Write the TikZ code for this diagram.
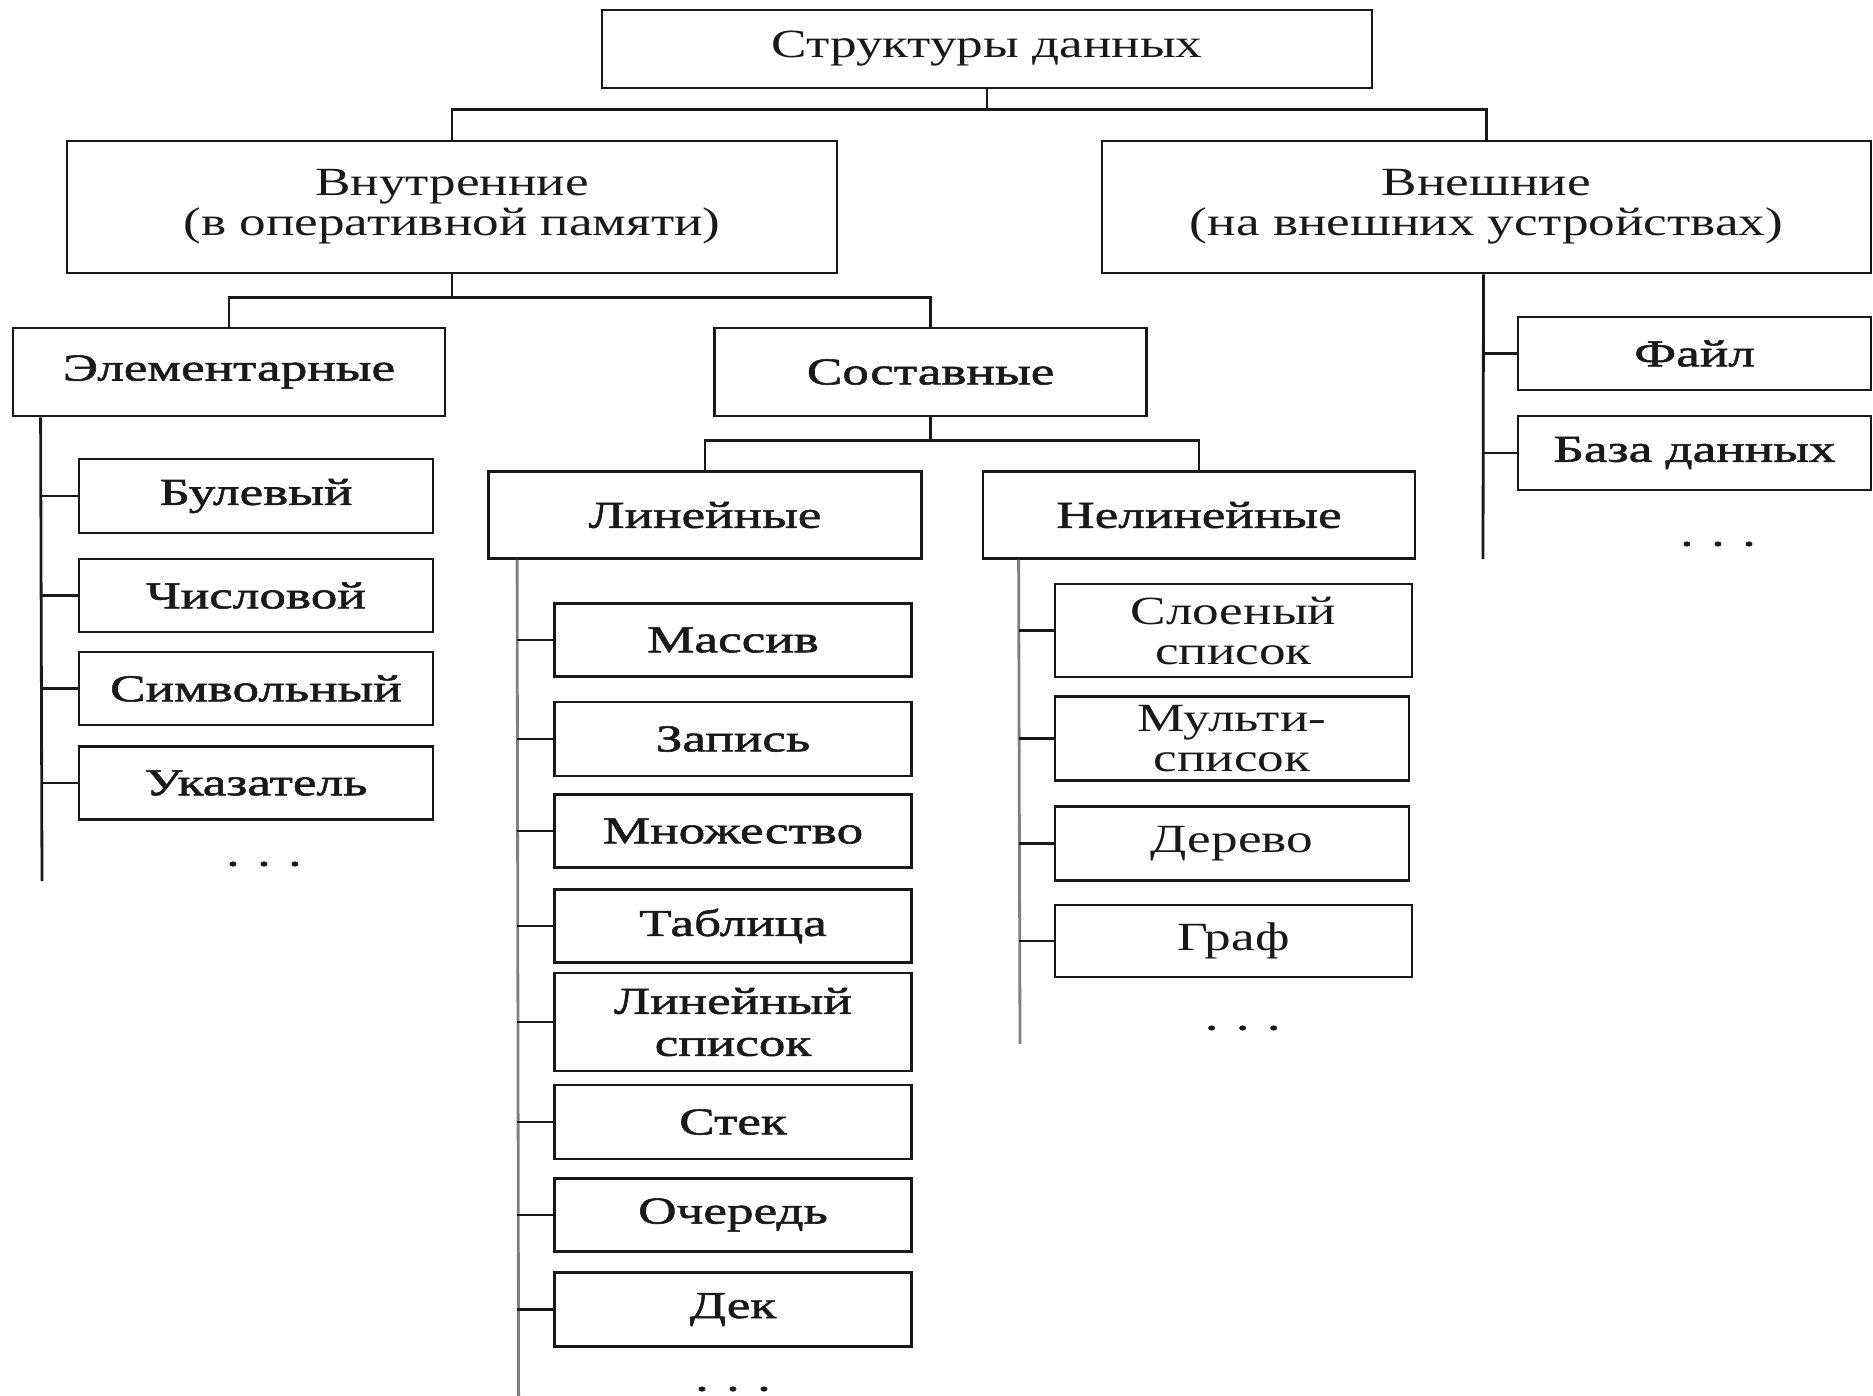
\documentclass[tikz,border=0pt]{standalone}
\usepackage{fontspec}
\setmainfont{Liberation Serif}
\newfontfamily\regf[FakeStretch=1.33]{Liberation Serif}
\newfontfamily\widef[FakeStretch=1.4,FakeBold=1.5]{Liberation Serif}
\usetikzlibrary{calc}
\begin{document}
\begin{tikzpicture}[x=1pt,y=-1pt,
  box/.style={draw=black!90, line width=2.8pt, fill=white, inner sep=0pt, align=center, text=black!90},
  reg/.style={box, font=\regf\fontsize{40}{40}\selectfont},
  wide/.style={box, font=\widef\fontsize{38}{42}\selectfont},
  ln/.style={draw=black!90, line width=2.8pt},
  gln/.style={draw=black!50, line width=2.8pt},
  dotsnode/.style={font=\widef\fontsize{38}{42}\selectfont, inner sep=0pt, text=black!90}]
\fill[white] (0,0) rectangle (1873,1396);
\useasboundingbox (0,0) rectangle (1873,1396);

% level 0-1
\node[reg, minimum width=770, minimum height=78] (top) at (987,49) {Структуры данных};
\node[reg, minimum width=770, minimum height=132] (inner) at (452,207) {Внутренние\\(в оперативной памяти)};
\node[reg, minimum width=769, minimum height=132] (outer) at (1486.5,207) {Внешние\\(на внешних устройствах)};

% level 2
\node[wide, minimum width=432, minimum height=88] (elem) at (229,372) {Элементарные};
\node[wide, minimum width=432, minimum height=88] (sost) at (930.6,372) {Составные};
\node[wide, minimum width=433, minimum height=87] (lin) at (705,515) {Линейные};
\node[wide, minimum width=432, minimum height=87] (nelin) at (1199,515) {Нелинейные};

% elementary children
\node[wide, minimum width=354, minimum height=74] (bul) at (256,496) {Булевый};
\node[wide, minimum width=354, minimum height=73] (chis) at (256,595.5) {Числовой};
\node[wide, minimum width=354, minimum height=73] (simv) at (256,688.5) {Символьный};
\node[wide, minimum width=354, minimum height=73] (ukaz) at (256,783) {Указатель};
\node[dotsnode] (edots) at (264,864) {. . .};

% linear children
\node[wide, minimum width=357, minimum height=73] (mass) at (733,640) {Массив};
\node[wide, minimum width=357, minimum height=74] (zap) at (733,739) {Запись};
\node[wide, minimum width=357, minimum height=73] (mnoz) at (733,831) {Множество};
\node[wide, minimum width=357, minimum height=73] (tabl) at (733,926) {Таблица};
\node[wide, minimum width=357, minimum height=98] (linsp) at (733,1022) {Линейный\\список};
\node[wide, minimum width=357, minimum height=74] (stek) at (733,1122) {Стек};
\node[wide, minimum width=357, minimum height=73] (och) at (733,1215) {Очередь};
\node[wide, minimum width=357, minimum height=74] (dek) at (733,1309.6) {Дек};
\node[dotsnode] (ldots) at (733,1389) {. . .};

% nonlinear children
\node[reg, minimum width=357, minimum height=93] (slo) at (1233.5,630.5) {Слоеный\\список};
\node[reg, minimum width=354, minimum height=84] (multi) at (1232,738.7) {Мульти-\\список};
\node[reg, minimum width=354, minimum height=74] (der) at (1232,843.7) {Дерево};
\node[reg, minimum width=357, minimum height=72] (graf) at (1233.5,941) {Граф};
\node[dotsnode] (ndots) at (1242.7,1028) {. . .};

% external children
\node[wide, minimum width=353, minimum height=73] (file) at (1694.5,353.5) {Файл};
\node[wide, minimum width=353, minimum height=74] (baza) at (1694.5,453) {База данных};
\node[dotsnode] (odots) at (1718,544) {. . .};

% tree connectors
\coordinate (j1) at ($(top.south)+(0,20)$);
\draw[ln] (top.south) -- (j1);
\draw[ln] (inner.north) |- (j1) -| (outer.north);
\coordinate (j2) at ($(inner.south)+(0,23)$);
\draw[ln] (inner.south) -- (j2);
\draw[ln] (elem.north) |- (j2) -| (sost.north);
\coordinate (j3) at ($(sost.south)+(0,23)$);
\draw[ln] (sost.south) -- (j3);
\draw[ln] (lin.north) |- (j3) -| (nelin.north);

% trunks
\coordinate (eT) at ($(elem.south west)+(29,0)$);
\coordinate (eB) at (42,881);
\draw[ln] (eT) -- (eB);
\foreach \n in {bul,chis,simv,ukaz} \draw[ln] (\n.west) -- (\n.west -| eT);

\coordinate (lT) at ($(lin.south west)+(30,0)$);
\coordinate (lB) at (518.6,1396);
\draw[gln] (lT) -- (lB);
\foreach \n in {mass,zap,mnoz,tabl,linsp,stek,och,dek} \draw[ln] (\n.west) -- (\n.west -| lT);

\coordinate (nT) at ($(nelin.south west)+(37,0)$);
\coordinate (nB) at (1020,1044);
\draw[gln] (nT) -- (nB);
\foreach \n in {slo,multi,der,graf} \draw[ln] (\n.west) -- (\n.west -| nT);

\coordinate (oT) at ($(outer.south)+(-3,0)$);
\coordinate (oB) at (1483,559);
\draw[ln] (oT) -- (oB);
\foreach \n in {file,baza} \draw[ln] (\n.west) -- (\n.west -| oT);
\end{tikzpicture}
\end{document}
